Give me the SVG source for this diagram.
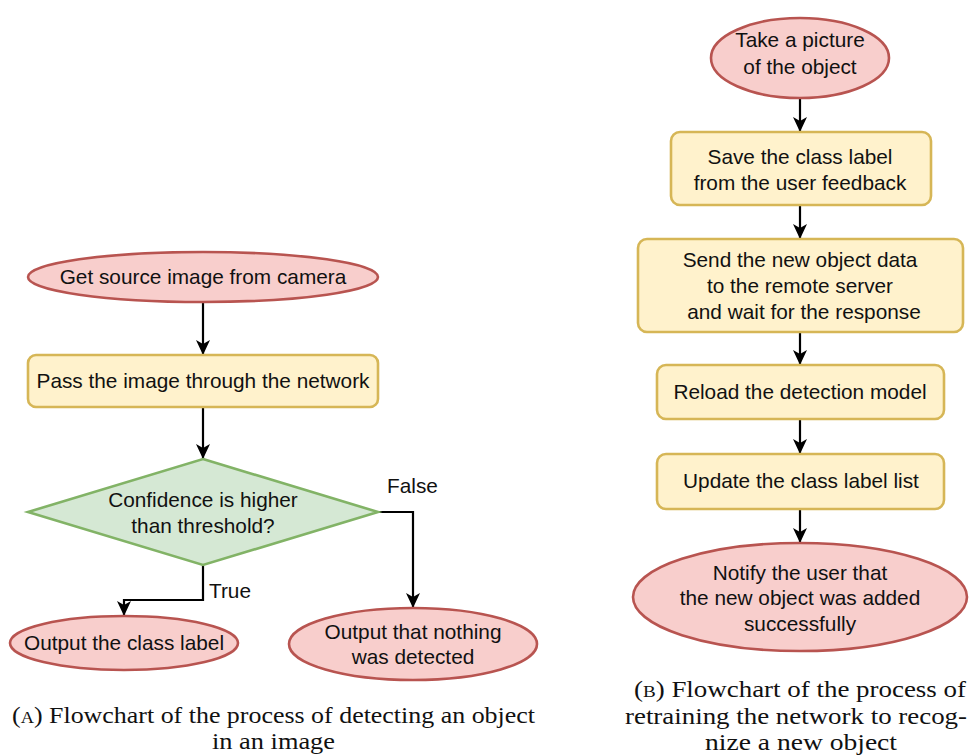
<svg xmlns="http://www.w3.org/2000/svg" width="974" height="756" viewBox="0 0 974 756">
  <defs>
    <style>
      .term { fill: #f8cecc; stroke: #b85450; stroke-width: 2.6; }
      .proc { fill: #fff2cc; stroke: #d6b656; stroke-width: 2.6; }
      .dec  { fill: #d5e8d4; stroke: #82b366; stroke-width: 2.6; }
      .lbl  { font-family: "Liberation Sans", Arial, sans-serif; font-size: 20.8px; fill: #111; text-anchor: middle; }
      .edge-lbl { font-family: "Liberation Sans", Arial, sans-serif; font-size: 20.8px; fill: #111; }
      .cap  { font-family: "Liberation Serif", "Times New Roman", serif; font-size: 24px; fill: #111; }
      .sc   { font-variant: small-caps; }
      .conn { fill: none; stroke: #000; stroke-width: 2.2; }
    </style>
    <marker id="arrow" viewBox="0 0 15 14" refX="15" refY="7" markerWidth="15" markerHeight="14" markerUnits="userSpaceOnUse" orient="auto">
      <path d="M0,0 L15,7 L0,14 L4,7 z" fill="#000"/>
    </marker>
  </defs>

  <rect width="974" height="756" fill="#ffffff"/>

  <!-- connectors -->
  <g id="connectors">
    <path class="conn" d="M203,303 V355" marker-end="url(#arrow)"/>
    <path class="conn" d="M203,407 V459" marker-end="url(#arrow)"/>
    <path class="conn" d="M203,565 V600 H124 V616" marker-end="url(#arrow)"/>
    <path class="conn" d="M378,512 H413 V608" marker-end="url(#arrow)"/>
    <path class="conn" d="M800,98 V132" marker-end="url(#arrow)"/>
    <path class="conn" d="M800,205 V239" marker-end="url(#arrow)"/>
    <path class="conn" d="M800,332 V365" marker-end="url(#arrow)"/>
    <path class="conn" d="M800,419 V454" marker-end="url(#arrow)"/>
    <path class="conn" d="M800,509 V543" marker-end="url(#arrow)"/>
    <text class="edge-lbl" x="209" y="598">True</text>
    <text class="edge-lbl" x="387" y="493">False</text>
  </g>

  <!-- flowchart (a): detection -->
  <g id="get-source">
    <ellipse class="term" cx="203" cy="277" rx="175" ry="25"/>
    <text class="lbl" x="203" y="284">Get source image from camera</text>
  </g>
  <g id="pass-image">
    <rect class="proc" x="28" y="355" width="350" height="52" rx="8"/>
    <text class="lbl" x="203" y="388">Pass the image through the network</text>
  </g>
  <g id="confidence">
    <polygon class="dec" points="203,459 378,512 203,565 28,512"/>
    <text class="lbl" x="203" y="507">Confidence is higher</text>
    <text class="lbl" x="203" y="533">than threshold?</text>
  </g>
  <g id="output-label">
    <ellipse class="term" cx="124" cy="643" rx="114" ry="27"/>
    <text class="lbl" x="124" y="650">Output the class label</text>
  </g>
  <g id="output-nothing">
    <ellipse class="term" cx="413" cy="644" rx="124" ry="36"/>
    <text class="lbl" x="413" y="639">Output that nothing</text>
    <text class="lbl" x="413" y="664">was detected</text>
  </g>

  <!-- flowchart (b): retraining -->
  <g id="take-picture">
    <ellipse class="term" cx="800" cy="58" rx="89" ry="40"/>
    <text class="lbl" x="800" y="47">Take a picture</text>
    <text class="lbl" x="800" y="74">of the object</text>
  </g>
  <g id="save-label">
    <rect class="proc" x="671" y="132" width="260" height="73" rx="9"/>
    <text class="lbl" x="800" y="164">Save the class label</text>
    <text class="lbl" x="800" y="190">from the user feedback</text>
  </g>
  <g id="send-data">
    <rect class="proc" x="638" y="239" width="325" height="93" rx="9"/>
    <text class="lbl" x="800" y="267">Send the new object data</text>
    <text class="lbl" x="800" y="293">to the remote server</text>
    <text class="lbl" x="804" y="319">and wait for the response</text>
  </g>
  <g id="reload-model">
    <rect class="proc" x="657" y="365" width="287" height="54" rx="9"/>
    <text class="lbl" x="800" y="399">Reload the detection model</text>
  </g>
  <g id="update-list">
    <rect class="proc" x="657" y="454" width="287" height="55" rx="9"/>
    <text class="lbl" x="801" y="488">Update the class label list</text>
  </g>
  <g id="notify-user">
    <ellipse class="term" cx="800" cy="597" rx="167" ry="54"/>
    <text class="lbl" x="800" y="580">Notify the user that</text>
    <text class="lbl" x="800" y="605">the new object was added</text>
    <text class="lbl" x="800" y="631">successfully</text>
  </g>

  <!-- captions -->
  <g id="caption-a">
    <text class="cap" x="12" y="723" textLength="523" lengthAdjust="spacingAndGlyphs">(<tspan class="sc">a</tspan>) Flowchart of the process of detecting an object</text>
    <text class="cap" x="212" y="749" textLength="123" lengthAdjust="spacingAndGlyphs">in an image</text>
  </g>
  <g id="caption-b">
    <text class="cap" x="634" y="697" textLength="332" lengthAdjust="spacingAndGlyphs">(<tspan class="sc">b</tspan>) Flowchart of the process of</text>
    <text class="cap" x="625" y="724" textLength="342" lengthAdjust="spacingAndGlyphs">retraining the network to recog-</text>
    <text class="cap" x="705" y="750" textLength="192" lengthAdjust="spacingAndGlyphs">nize a new object</text>
  </g>
</svg>
